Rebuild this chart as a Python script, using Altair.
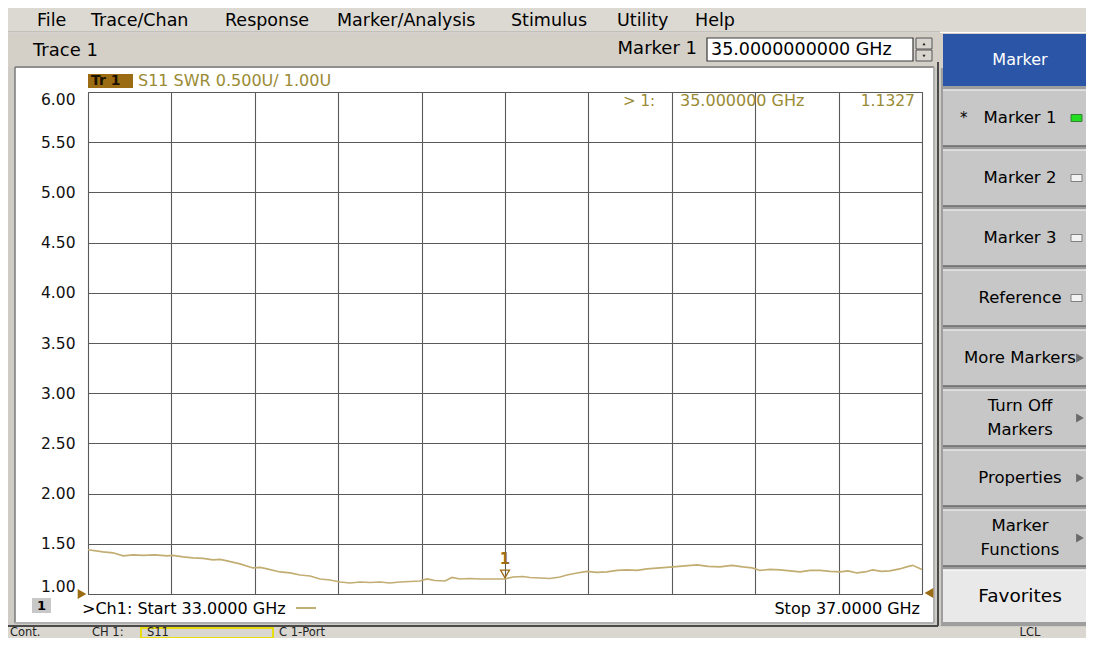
import altair as alt
import pandas as pd

# ---------------- trace data ----------------
freq_ghz = [33.000, 33.072, 33.120, 33.168, 33.216, 33.264, 33.321, 33.379, 33.408, 33.456,
            33.504, 33.552, 33.600, 33.633, 33.667, 33.729, 33.791, 33.825, 33.859, 33.921,
            33.969, 34.017, 34.065, 34.113, 34.161, 34.209, 34.257, 34.305, 34.353, 34.400,
            34.448, 34.496, 34.544, 34.592, 34.626, 34.664, 34.712, 34.746, 34.784, 34.832,
            34.880, 34.942, 35.000, 35.038, 35.086, 35.120, 35.168, 35.216, 35.264, 35.297,
            35.345, 35.393, 35.441, 35.489, 35.537, 35.585, 35.633, 35.681, 35.743, 35.806,
            35.863, 35.921, 35.974, 36.031, 36.088, 36.141, 36.185, 36.223, 36.271, 36.319,
            36.367, 36.415, 36.463, 36.511, 36.559, 36.607, 36.645, 36.688, 36.727, 36.763,
            36.806, 36.845, 36.893, 36.926, 36.955, 37.000]
swr = [1.44, 1.42, 1.41, 1.38, 1.39, 1.385, 1.39, 1.38, 1.385, 1.37,
       1.36, 1.355, 1.34, 1.345, 1.33, 1.30, 1.26, 1.265, 1.25, 1.22,
       1.21, 1.19, 1.18, 1.15, 1.14, 1.12, 1.11, 1.12, 1.115, 1.12,
       1.11, 1.12, 1.125, 1.13, 1.15, 1.135, 1.13, 1.165, 1.15, 1.155,
       1.15, 1.15, 1.15, 1.17, 1.175, 1.165, 1.16, 1.155, 1.17, 1.19,
       1.21, 1.225, 1.215, 1.22, 1.235, 1.24, 1.235, 1.25, 1.26, 1.27,
       1.28, 1.29, 1.275, 1.27, 1.285, 1.27, 1.26, 1.235, 1.245, 1.24,
       1.23, 1.22, 1.235, 1.235, 1.225, 1.22, 1.23, 1.21, 1.22, 1.24,
       1.225, 1.23, 1.25, 1.27, 1.285, 1.245]

y_ticks = [1.00, 1.50, 2.00, 2.50, 3.00, 3.50, 4.00, 4.50, 5.00, 5.50, 6.00]
x_grid = [33.0, 33.4, 33.8, 34.2, 34.6, 35.0, 35.4, 35.8, 36.2, 36.6, 37.0]

marker_freq = [35.0]
marker_swr = [1.15]
marker_readout = ["> 1:", "35.000000 GHz", "1.1327"]

menu_labels = ["File", "Trace/Chan", "Response", "Marker/Analysis", "Stimulus", "Utility", "Help"]
menu_x = [37, 91, 225, 337, 511, 617, 695]

btn_top = [90, 150, 210, 270, 330, 390, 450, 510]
btn_bot = [146, 206, 266, 326, 386, 446, 506, 566]
btn_text = [["Marker 1"], ["Marker 2"], ["Marker 3"], ["Reference"], ["More Markers"],
            ["Turn Off", "Markers"], ["Properties"], ["Marker", "Functions"]]
btn_indicator = ["green", "off", "off", "off", None, None, None, None]
btn_arrow = [False, False, False, False, True, True, True, True]

status_texts = [("Cont.", 10), ("CH 1:", 92), ("S11", 147), ("C  1-Port", 279)]

# ---------------- layout ----------------
PAD_L, PAD_T, W, H = 80, 84, 834, 502
PAD_R = 1078 - PAD_L - W
PAD_B = 630 - PAD_T - H
ORIGIN_X, ORIGIN_Y = 8 + PAD_L, 8 + PAD_T

UI_FONT = "DejaVu Sans"
DISP_FONT = "DejaVu Sans"
TRACE_COLOR = "#c2ad72"
GOLD = "#9a8a34"
BROWN = "#9c6c14"
GRID = "#5a5a5a"

one = pd.DataFrame({"k": [0]})


def X(px):
    return px - ORIGIN_X


def Y(py):
    return py - ORIGIN_Y


def box(x0, y0, x1, y1, fill, stroke=None, sw=1.0, fill_opacity=1.0):
    kw = dict(fill=fill, fillOpacity=fill_opacity)
    if stroke:
        kw.update(stroke=stroke, strokeWidth=sw)
    return alt.Chart(one).mark_rect(**kw).encode(
        x=alt.value(X(x0)), x2=alt.value(X(x1)), y=alt.value(Y(y0)), y2=alt.value(Y(y1)))


def line(x0, y0, x1, y1, color, sw=1.0):
    return alt.Chart(one).mark_rule(color=color, strokeWidth=sw).encode(
        x=alt.value(X(x0)), x2=alt.value(X(x1)), y=alt.value(Y(y0)), y2=alt.value(Y(y1)))


def label(px, py, s, size=15, color="#000000", align="left", font=UI_FONT, weight="normal"):
    return alt.Chart(one).mark_text(text=s, fontSize=size, color=color, align=align,
                                    baseline="middle", font=font, fontWeight=weight).encode(
        x=alt.value(X(px)), y=alt.value(Y(py)))


def glyph(px, py, shape, color, size=40, filled=True):
    return alt.Chart(one).mark_point(shape=shape, filled=filled, color=color, size=size,
                                     opacity=1, strokeWidth=1).encode(
        x=alt.value(X(px)), y=alt.value(Y(py)))


layers = []

# ---- window chrome (never overlaps the white display area) ----
layers.append(box(0, 0, 1094, 32, "#dcd9d3"))            # menu bar
layers.append(line(0, 32, 940, 32, "#a8a6a0"))
layers.append(box(0, 33, 1094, 68, "#d4d0c8"))           # trace row
layers.append(box(0, 68, 15, 646, "#cfccc6"))             # left band
layers.append(box(934, 68, 1094, 646, "#cfccc6"))         # right band
layers.append(box(0, 623, 1094, 646, "#cfccc6"))          # bottom band
layers.append(line(15, 67, 934, 67, "#7a7a7a", 1.5))
layers.append(line(15, 67, 15, 623, "#7a7a7a", 1.5))
layers.append(line(934, 67, 934, 623, "#b0b0b0", 2))
layers.append(line(15, 623, 934, 623, "#b0b0b0", 2))
layers.append(line(938, 62, 938, 626, "#4a4a4a", 2))
layers.append(line(8, 626, 938, 626, "#4a4a4a", 2))
layers.append(box(0, 627, 1094, 646, "#dad7d1"))          # status bar

for txt, mx in zip(menu_labels, menu_x):
    layers.append(label(mx, 21, txt, size=17.5))
layers.append(label(33, 51, "Trace 1", size=18))
layers.append(label(697, 49, "Marker 1", size=18, align="right"))
layers.append(box(707, 38, 913, 61, "#ffffff", stroke="#3a3a3a", sw=1.2))
layers.append(label(711, 50, "35.0000000000 GHz", size=17.5))
layers.append(box(916, 38, 932, 49, "#d8d5cf", stroke="#555555", sw=1))
layers.append(box(916, 50, 932, 61, "#d8d5cf", stroke="#555555", sw=1))
layers.append(glyph(924, 44, "triangle-up", "#222222", size=10))
layers.append(glyph(924, 56, "triangle-down", "#222222", size=10))

# ---- right soft-key panel ----
layers.append(box(941, 68, 1094, 626, "#9e9e9e"))
layers.append(box(943, 34, 1094, 86, "#2b56a7"))
layers.append(label(1020, 60, "Marker", size=16, color="#ffffff", align="center"))
for top, bot, lines_, ind, arr in zip(btn_top, btn_bot, btn_text, btn_indicator, btn_arrow):
    layers.append(box(943, top, 1094, bot, "#c7c7c7"))
    layers.append(line(943, top, 1094, top, "#e8e8e8", 1.5))
    layers.append(line(943, bot, 1094, bot, "#6a6a6a", 1.5))
    mid = (top + bot) / 2
    if len(lines_) == 1:
        layers.append(label(1020, mid, lines_[0], size=16.5, align="center"))
    else:
        layers.append(label(1020, mid - 12, lines_[0], size=16.5, align="center"))
        layers.append(label(1020, mid + 12, lines_[1], size=16.5, align="center"))
    if ind == "green":
        layers.append(box(1071, mid - 3.5, 1082, mid + 3.5, "#22dd22", stroke="#2a6a2a", sw=0.8))
    elif ind == "off":
        layers.append(box(1071, mid - 3.5, 1082, mid + 3.5, "#f2f2f2", stroke="#6a6a6a", sw=0.8))
    if arr:
        layers.append(glyph(1080, mid, "triangle-right", "#6a6a6a", size=80))
layers.append(label(960, 118, "*", size=15))
layers.append(box(943, 570, 1094, 622, "#e9e9e9"))
layers.append(line(943, 570, 1094, 570, "#f8f8f8", 1.5))
layers.append(label(1020, 596, "Favorites", size=18.5, align="center"))

# ---- status bar (squeezed into the visible strip) ----
layers.append(box(141, 628, 273, 638, "#dad7d1", stroke="#e6dc10", sw=2))
for txt, sx in status_texts:
    layers.append(label(sx, 632.5, txt, size=11.5, color="#222222"))
layers.append(label(1030, 632.5, "LCL", size=11.5, color="#222222", align="center"))

# ---- display annotations ----
layers.append(box(88, 74, 133, 88, BROWN))
layers.append(label(91, 81, "Tr  1", size=14, color="#1c1200", font=DISP_FONT, weight="bold"))
layers.append(label(138, 81, "S11 SWR 0.500U/  1.00U", size=16, color=GOLD, font=DISP_FONT))
layers.append(label(655, 101, marker_readout[0], size=15, color=GOLD, font=DISP_FONT, align="right"))
layers.append(label(680, 101, marker_readout[1], size=16, color=GOLD, font=DISP_FONT))
layers.append(label(915, 101, marker_readout[2], size=15.5, color=GOLD, font=DISP_FONT, align="right"))
layers.append(box(32, 598, 51, 613, "#c8c8c8"))
layers.append(label(41.5, 606, "1", size=13, align="center", font=DISP_FONT, weight="bold"))
layers.append(label(82, 609, ">Ch1: Start  33.0000 GHz", size=16, font=DISP_FONT))
layers.append(line(296, 608, 316, 608, TRACE_COLOR, 2))
layers.append(label(920, 609, "Stop  37.0000 GHz", size=16, font=DISP_FONT, align="right"))

# ---- the trace itself, drawn through the chart's scales ----
trace_df = pd.DataFrame({"freq": freq_ghz, "swr": swr})
x_enc = alt.X("freq:Q", scale=alt.Scale(domain=[33, 37], nice=False, zero=False),
              axis=alt.Axis(values=x_grid, labels=False, ticks=False, domain=False, grid=True,
                            gridColor=GRID, gridOpacity=1, gridWidth=1.1, title=None))
y_enc = alt.Y("swr:Q", scale=alt.Scale(domain=[1, 6], nice=False, zero=False),
              axis=alt.Axis(values=y_ticks, format=".2f", labelFlush=True, ticks=False, domain=False,
                            grid=True, gridColor=GRID, gridOpacity=1, gridWidth=1.1, title=None,
                            labelFont=DISP_FONT, labelFontSize=15.5, labelColor="#111111",
                            labelPadding=13))
trace = alt.Chart(trace_df).mark_line(color=TRACE_COLOR, strokeWidth=1.6).encode(x=x_enc, y=y_enc)
layers.append(trace)

mk_df = pd.DataFrame({"freq": marker_freq, "swr": marker_swr})
layers.append(alt.Chart(mk_df).mark_point(shape="triangle-down", filled=False, color=BROWN, size=80,
                                           strokeWidth=1.3, opacity=1, yOffset=-5)
              .encode(x="freq:Q", y="swr:Q"))
layers.append(alt.Chart(mk_df).mark_text(text="1", fontSize=15, color=BROWN, font=DISP_FONT,
                                          fontWeight="bold", dy=-20)
              .encode(x="freq:Q", y="swr:Q"))

ends_df = pd.DataFrame({"freq": [33.0], "swr": [1.0]})
layers.append(alt.Chart(ends_df).mark_point(shape="triangle-right", filled=True, color=BROWN, size=100,
                                             opacity=1, xOffset=-6).encode(x="freq:Q", y="swr:Q"))
ende_df = pd.DataFrame({"freq": [37.0], "swr": [1.0]})
layers.append(alt.Chart(ende_df).mark_point(shape="triangle-left", filled=True, color=BROWN, size=100,
                                             opacity=1, xOffset=7, yOffset=-1).encode(x="freq:Q", y="swr:Q"))

chart = alt.layer(*layers).properties(
    width=W, height=H,
    padding={"left": PAD_L, "top": PAD_T, "right": PAD_R, "bottom": PAD_B},
    autosize=alt.AutoSizeParams(type="none"),
    background="#ffffff",
).configure_view(stroke=GRID, strokeWidth=1)

chart.save("out.html", embed_options={"renderer": "svg", "actions": False})
